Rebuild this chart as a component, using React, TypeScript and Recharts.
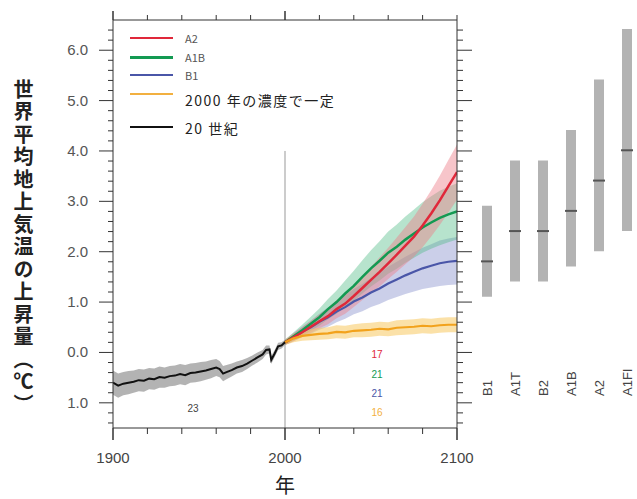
import React from 'react';
import { ComposedChart, Line, Area, Bar, XAxis, YAxis, ReferenceLine } from 'recharts';

// 20th century simulation (mean and +/- spread)
const years20 = [1900, 1903, 1906, 1909, 1912, 1915, 1918, 1921, 1924, 1927, 1930, 1933, 1936, 1939, 1942, 1945, 1948, 1951, 1954, 1957, 1960, 1962, 1964, 1966, 1969, 1972, 1975, 1978, 1981, 1984, 1987, 1989, 1991, 1992, 1994, 1996, 1998, 2000];
const mean20 = [-0.6, -0.66, -0.62, -0.6, -0.58, -0.55, -0.56, -0.52, -0.53, -0.49, -0.5, -0.47, -0.46, -0.43, -0.45, -0.41, -0.4, -0.38, -0.36, -0.33, -0.3, -0.33, -0.42, -0.39, -0.35, -0.3, -0.27, -0.22, -0.16, -0.1, -0.04, 0.05, 0.06, -0.15, -0.02, 0.12, 0.14, 0.2];
const spread20 = [0.24, 0.24, 0.23, 0.23, 0.22, 0.22, 0.22, 0.21, 0.21, 0.21, 0.2, 0.2, 0.2, 0.2, 0.2, 0.19, 0.19, 0.19, 0.18, 0.18, 0.17, 0.16, 0.15, 0.14, 0.13, 0.12, 0.12, 0.11, 0.1, 0.1, 0.09, 0.09, 0.08, 0.08, 0.07, 0.07, 0.06, 0.05];

// scenario runs 2000-2100
const yearsScen = [2000, 2005, 2010, 2015, 2020, 2025, 2030, 2035, 2040, 2045, 2050, 2055, 2060, 2065, 2070, 2075, 2080, 2085, 2090, 2095, 2100];
const a2Mean = [0.2, 0.3, 0.4, 0.51, 0.62, 0.72, 0.86, 0.97, 1.12, 1.28, 1.44, 1.6, 1.77, 1.94, 2.12, 2.3, 2.52, 2.76, 3.02, 3.3, 3.58];
const a2Spread = [0.05, 0.08, 0.1, 0.12, 0.14, 0.16, 0.18, 0.2, 0.22, 0.24, 0.26, 0.29, 0.31, 0.34, 0.37, 0.4, 0.43, 0.46, 0.49, 0.52, 0.55];
const a1bMean = [0.2, 0.32, 0.44, 0.57, 0.7, 0.86, 1.0, 1.17, 1.32, 1.5, 1.67, 1.82, 1.98, 2.1, 2.24, 2.36, 2.48, 2.58, 2.67, 2.74, 2.8];
const a1bSpread = [0.05, 0.08, 0.11, 0.14, 0.17, 0.2, 0.23, 0.26, 0.3, 0.33, 0.36, 0.39, 0.42, 0.44, 0.46, 0.48, 0.5, 0.52, 0.54, 0.55, 0.56];
const b1Mean = [0.2, 0.3, 0.41, 0.5, 0.61, 0.7, 0.81, 0.9, 1.01, 1.09, 1.19, 1.27, 1.37, 1.45, 1.53, 1.6, 1.67, 1.72, 1.77, 1.8, 1.82];
const b1Spread = [0.05, 0.08, 0.1, 0.13, 0.16, 0.19, 0.21, 0.23, 0.25, 0.27, 0.29, 0.31, 0.33, 0.35, 0.37, 0.39, 0.41, 0.43, 0.45, 0.46, 0.47];
const constMean = [0.2, 0.28, 0.33, 0.35, 0.37, 0.38, 0.41, 0.4, 0.43, 0.44, 0.45, 0.47, 0.46, 0.49, 0.5, 0.51, 0.53, 0.52, 0.54, 0.55, 0.55];
const constSpread = [0.05, 0.08, 0.1, 0.11, 0.12, 0.12, 0.13, 0.13, 0.13, 0.14, 0.14, 0.14, 0.14, 0.15, 0.15, 0.15, 0.15, 0.15, 0.15, 0.15, 0.15];

// likely ranges at 2100 (right panel)
const scenNames = ['B1', 'A1T', 'B2', 'A1B', 'A2', 'A1FI'];
const scenLow = [1.1, 1.4, 1.4, 1.7, 2.0, 2.4];
const scenHigh = [2.9, 3.8, 3.8, 4.4, 5.4, 6.4];
const scenBest = [1.8, 2.4, 2.4, 2.8, 3.4, 4.0];

const xTicks = [1900, 1920, 1940, 1960, 1980, 2000, 2020, 2040, 2060, 2080, 2100];
const xLabels = [1900, 2000, 2100];
const yMajor = [-1, 0, 1, 2, 3, 4, 5, 6];
const yMajorLabels = ['1.0', '0.0', '1.0', '2.0', '3.0', '4.0', '5.0', '6.0'];
const yTicks: number[] = [];
for (let i = -7; i <= 32; i++) yTicks.push(Math.round(i * 2) / 10);

const Y_DOMAIN: [number, number] = [-1.5, 6.6];

const rowMap = new Map<number, any>();
years20.forEach((yr, i) => {
  rowMap.set(yr, { year: yr, c20: mean20[i], c20Band: [mean20[i] - spread20[i], mean20[i] + spread20[i]] });
});
yearsScen.forEach((yr, i) => {
  const r = rowMap.get(yr) ?? { year: yr };
  r.a2 = a2Mean[i];
  r.a2Band = [a2Mean[i] - a2Spread[i], a2Mean[i] + a2Spread[i]];
  r.a1b = a1bMean[i];
  r.a1bBand = [a1bMean[i] - a1bSpread[i], a1bMean[i] + a1bSpread[i]];
  r.b1 = b1Mean[i];
  r.b1Band = [b1Mean[i] - b1Spread[i], b1Mean[i] + b1Spread[i]];
  r.cst = constMean[i];
  r.cstBand = [constMean[i] - constSpread[i], constMean[i] + constSpread[i]];
  rowMap.set(yr, r);
});
const chartData = [...rowMap.values()].sort((a, b) => a.year - b.year);

const rangeData = scenNames.map((name, i) => ({ name, range: [scenLow[i], scenHigh[i]], best: scenBest[i] }));

const AXIS = '#333';
const NUM_FONT = '"Liberation Sans", Arial, sans-serif';
const JP_FONT = '"Noto Sans CJK JP", "Noto Sans", sans-serif';

const isMajorY = (v: number) => Math.abs(v - Math.round(v)) < 1e-6;

const LeftTick = (props: any) => {
  const { x, y, payload } = props;
  const v = payload.value;
  const major = isMajorY(v);
  const idx = yMajor.indexOf(Math.round(v));
  return (
    <g>
      <line x1={x - (major ? 14 : 5)} x2={x} y1={y} y2={y} stroke={AXIS} strokeWidth={1} />
      {major && idx >= 0 && (
        <text x={x - 25} y={y + 5} textAnchor="end" fontSize={15} fill="#555" fontFamily={NUM_FONT}>
          {yMajorLabels[idx]}
        </text>
      )}
    </g>
  );
};

const RightTick = (props: any) => {
  const { x, y, payload } = props;
  const major = isMajorY(payload.value);
  return <line x1={x} x2={x + (major ? 15 : 6)} y1={y} y2={y} stroke={AXIS} strokeWidth={1} />;
};

const BottomTick = (props: any) => {
  const { x, y, payload } = props;
  const labeled = xLabels.includes(payload.value);
  return (
    <g>
      <line x1={x} x2={x} y1={y} y2={y + (labeled ? 12 : 6)} stroke={AXIS} strokeWidth={labeled ? 1.5 : 1} />
      {labeled && (
        <text x={x} y={y + 35} textAnchor="middle" fontSize={15} fill="#444" fontFamily={NUM_FONT}>
          {payload.value}
        </text>
      )}
    </g>
  );
};

const TopTick = (props: any) => {
  const { x, y, payload } = props;
  const major = payload.value === 1900 || payload.value === 2000;
  return <line x1={x} x2={x} y1={y} y2={y - (major ? 9 : 5)} stroke={AXIS} strokeWidth={major ? 1.5 : 1} />;
};

const ScenTick = (props: any) => {
  const { x, y, payload } = props;
  const ty = y - 32;
  return (
    <text x={x + 5} y={ty} transform={`rotate(-90, ${x + 5}, ${ty})`} textAnchor="start" fontSize={13} fill="#444" fontFamily={NUM_FONT}>
      {payload.value}
    </text>
  );
};

const BestMark = (props: any) => {
  const { cx, cy, index } = props;
  return <line key={index} x1={cx - 6} x2={cx + 6} y1={cy} y2={cy} stroke="#555" strokeWidth={2} />;
};

const legendItems = [
  { label: 'A2', color: '#e0283a', width: 2, top: 38, textMid: 38, size: 11, textColor: '#555' },
  { label: 'A1B', color: '#139a52', width: 3, top: 57, textMid: 57, size: 11, textColor: '#555' },
  { label: 'B1', color: '#4a56a8', width: 2, top: 75, textMid: 75, size: 11, textColor: '#555' },
  { label: '2000 年の濃度で一定', color: '#f2b040', width: 1.5, top: 94, textMid: 100, size: 14, textColor: '#222' },
  { label: '20 世紀', color: '#111', width: 2.5, top: 127, textMid: 128, size: 14, textColor: '#222' },
];

const countNotes = [
  { text: '23', color: '#444', left: 193, top: 409 },
  { text: '17', color: '#e0283a', left: 377, top: 355 },
  { text: '21', color: '#139a52', left: 377, top: 375 },
  { text: '21', color: '#4a56a8', left: 377, top: 394 },
  { text: '16', color: '#f2b040', left: 377, top: 413 },
];

export default function App() {
  return (
    <div style={{ position: 'absolute', left: 0, top: 0, width: 637, height: 499, overflow: 'hidden', background: '#fff' }}>
      <ComposedChart width={637} height={499} data={chartData} margin={{ top: 19, right: 179, bottom: 70, left: 112 }}>
        <XAxis xAxisId="bottom" dataKey="year" type="number" domain={[1900, 2100]} ticks={xTicks} interval={0}
          height={1} tickSize={0} tickMargin={0} tickLine={false} stroke={AXIS} tick={BottomTick} allowDataOverflow />
        <XAxis xAxisId="top" orientation="top" dataKey="year" type="number" domain={[1900, 2100]} ticks={xTicks} interval={0}
          height={1} tickSize={0} tickMargin={0} tickLine={false} stroke={AXIS} tick={TopTick} allowDataOverflow />
        <YAxis yAxisId="left" type="number" domain={Y_DOMAIN} ticks={yTicks} interval={0} width={1}
          tickSize={0} tickMargin={0} tickLine={false} stroke={AXIS} tick={LeftTick} allowDataOverflow />
        <YAxis yAxisId="right" orientation="right" type="number" domain={Y_DOMAIN} ticks={yTicks} interval={0} width={1}
          tickSize={0} tickMargin={0} tickLine={false} stroke={AXIS} tick={RightTick} allowDataOverflow />

        <ReferenceLine xAxisId="bottom" yAxisId="left" segment={[{ x: 2000, y: 4.0 }, { x: 2000, y: -1.5 }]} stroke="#999" strokeWidth={1} />

        <Area xAxisId="bottom" yAxisId="left" dataKey="c20Band" stroke="none" fill="#9a9a9a" fillOpacity={0.75} isAnimationActive={false} />
        <Area xAxisId="bottom" yAxisId="left" dataKey="b1Band" stroke="none" fill="#7d86c8" fillOpacity={0.4} isAnimationActive={false} />
        <Area xAxisId="bottom" yAxisId="left" dataKey="a1bBand" stroke="none" fill="#4cb883" fillOpacity={0.4} isAnimationActive={false} />
        <Area xAxisId="bottom" yAxisId="left" dataKey="a2Band" stroke="none" fill="#ee7f8a" fillOpacity={0.45} isAnimationActive={false} />
        <Area xAxisId="bottom" yAxisId="left" dataKey="cstBand" stroke="none" fill="#f8c860" fillOpacity={0.55} isAnimationActive={false} />

        <Line xAxisId="bottom" yAxisId="left" dataKey="b1" stroke="#4a56a8" strokeWidth={2.2} dot={false} type="linear" isAnimationActive={false} />
        <Line xAxisId="bottom" yAxisId="left" dataKey="a1b" stroke="#139a52" strokeWidth={2.5} dot={false} type="linear" isAnimationActive={false} />
        <Line xAxisId="bottom" yAxisId="left" dataKey="a2" stroke="#e0283a" strokeWidth={2.5} dot={false} type="linear" isAnimationActive={false} />
        <Line xAxisId="bottom" yAxisId="left" dataKey="cst" stroke="#f2a21c" strokeWidth={2.2} dot={false} type="linear" isAnimationActive={false} />
        <Line xAxisId="bottom" yAxisId="left" dataKey="c20" stroke="#111" strokeWidth={2} dot={false} type="linear" isAnimationActive={false} />
      </ComposedChart>

      <div style={{ position: 'absolute', left: 457, top: 0 }}>
        <ComposedChart width={184} height={499} data={rangeData} margin={{ top: 19, right: 0, bottom: 70, left: 16 }}>
          <XAxis dataKey="name" type="category" height={1} tickSize={0} tickMargin={0} tickLine={false} axisLine={false} interval={0} tick={ScenTick} />
          <YAxis type="number" domain={Y_DOMAIN} hide allowDataOverflow />
          <Bar dataKey="range" fill="#b3b3b3" barSize={10} isAnimationActive={false} />
          <Line dataKey="best" stroke="none" dot={BestMark} activeDot={false} isAnimationActive={false} />
        </ComposedChart>
      </div>

      {legendItems.map((it) => (
        <React.Fragment key={it.label}>
          <div style={{ position: 'absolute', left: 130, top: it.top - it.width / 2, width: 43, height: it.width, background: it.color }} />
          <div style={{ position: 'absolute', left: 185, top: it.textMid - (it.size + 2) / 2, fontSize: it.size, lineHeight: `${it.size + 2}px`, color: it.textColor, fontFamily: JP_FONT, letterSpacing: it.size > 12 ? 1.5 : 0, whiteSpace: 'nowrap' }}>
            {it.label}
          </div>
        </React.Fragment>
      ))}

      {countNotes.map((n, i) => (
        <div key={i} style={{ position: 'absolute', left: n.left - 10, top: n.top - 7, width: 20, textAlign: 'center', fontSize: 10, lineHeight: '14px', color: n.color, fontFamily: NUM_FONT }}>
          {n.text}
        </div>
      ))}

      <div style={{ position: 'absolute', left: 12, top: 79, writingMode: 'vertical-rl', fontSize: 20, fontWeight: 700, letterSpacing: 2.5, color: '#222', fontFamily: JP_FONT, lineHeight: '22px' }}>
        世界平均地上気温の上昇量（℃）
      </div>

      <div style={{ position: 'absolute', left: 275, top: 473, fontSize: 20, color: '#222', fontFamily: JP_FONT, lineHeight: '24px' }}>
        年
      </div>
    </div>
  );
}
